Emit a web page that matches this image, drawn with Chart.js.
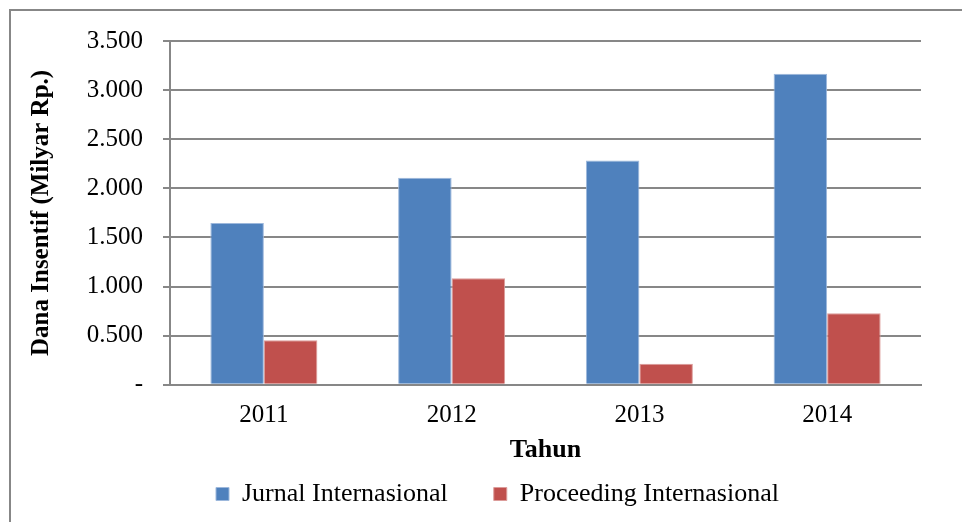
<!DOCTYPE html>
<html>
<head>
<meta charset="utf-8">
<script src="https://cdn.jsdelivr.net/npm/chart.js@4/dist/chart.umd.min.js"></script>
<style>
  html, body { margin: 0; padding: 0; background: #fff; }
  .chart-container { width: 962px; height: 522px; position: relative; }
</style>
</head>
<body>
<div class="chart-container">
  <canvas id="barChart"></canvas>
</div>
<script>
const years = ['2011', '2012', '2013', '2014'];
const jurnal = [1.646, 2.109, 2.283, 3.166];
const proceeding = [0.453, 1.084, 0.215, 0.729];
const seriesNames = ['Jurnal Internasional', 'Proceeding Internasional'];

const serif = "'Liberation Serif', 'DejaVu Serif', serif";
const gridGray = '#878787';

// frame on the left and top, like the cropped Excel chart border
const framePlugin = {
  id: 'frame',
  beforeDraw(chart) {
    const ctx = chart.ctx;
    ctx.save();
    ctx.strokeStyle = gridGray;
    ctx.lineWidth = 2;
    ctx.beginPath();
    ctx.moveTo(10, chart.height);
    ctx.lineTo(10, 10);
    ctx.lineTo(chart.width, 10);
    ctx.stroke();
    ctx.restore();
  }
};

new Chart(document.getElementById('barChart'), {
  type: 'bar',
  data: {
    labels: years,
    datasets: [
      {
        label: seriesNames[0],
        data: jurnal,
        backgroundColor: '#4F81BD',
        borderColor: '#9DB8DC',
        borderWidth: 1,
        categoryPercentage: 0.57,
        barPercentage: 1.0,
      },
      {
        label: seriesNames[1],
        data: proceeding,
        backgroundColor: '#C0504D',
        borderColor: '#DC9C9A',
        borderWidth: 1,
        categoryPercentage: 0.57,
        barPercentage: 1.0,
      },
    ],
  },
  options: {
    responsive: true,
    maintainAspectRatio: false,
    animation: false,
    layout: {
      padding: { left: 12, right: 41, top: 41, bottom: 5 },
    },
    scales: {
      x: {
        grid: { display: false, drawTicks: false },
        border: { display: true, color: gridGray, width: 2 },
        ticks: { color: '#000', font: { family: serif, size: 25 }, padding: 16 },
        title: {
          display: true,
          text: 'Tahun',
          color: '#000',
          font: { family: serif, size: 26, weight: 'bold' },
          padding: { top: -12, bottom: -31 },
        },
      },
      y: {
        min: 0,
        max: 3.5,
        afterFit: (scale) => { scale.width = 170 - 12; },
        grid: { color: gridGray, lineWidth: 2, tickLength: 7 },
        border: { display: true, color: gridGray, width: 2 },
        ticks: {
          stepSize: 0.5,
          color: '#000',
          font: { family: serif, size: 25 },
          padding: 20,
          callback: (v) => (v === 0 ? '-' : v.toFixed(3)),
        },
        title: {
          display: true,
          text: 'Dana Insentif (Milyar Rp.)',
          color: '#000',
          font: { family: serif, size: 25, weight: 'bold' },
          padding: { top: 15, bottom: 0 },
        },
      },
    },
    plugins: {
      legend: {
        position: 'bottom',
        align: 'start',
        fullSize: false,
        labels: {
          color: '#000',
          font: { family: serif, size: 26 },
          boxWidth: 13,
          boxHeight: 13,
          padding: 46,
        },
      },
      tooltip: { enabled: false },
    },
  },
  plugins: [framePlugin],
});
</script>
</body>
</html>
